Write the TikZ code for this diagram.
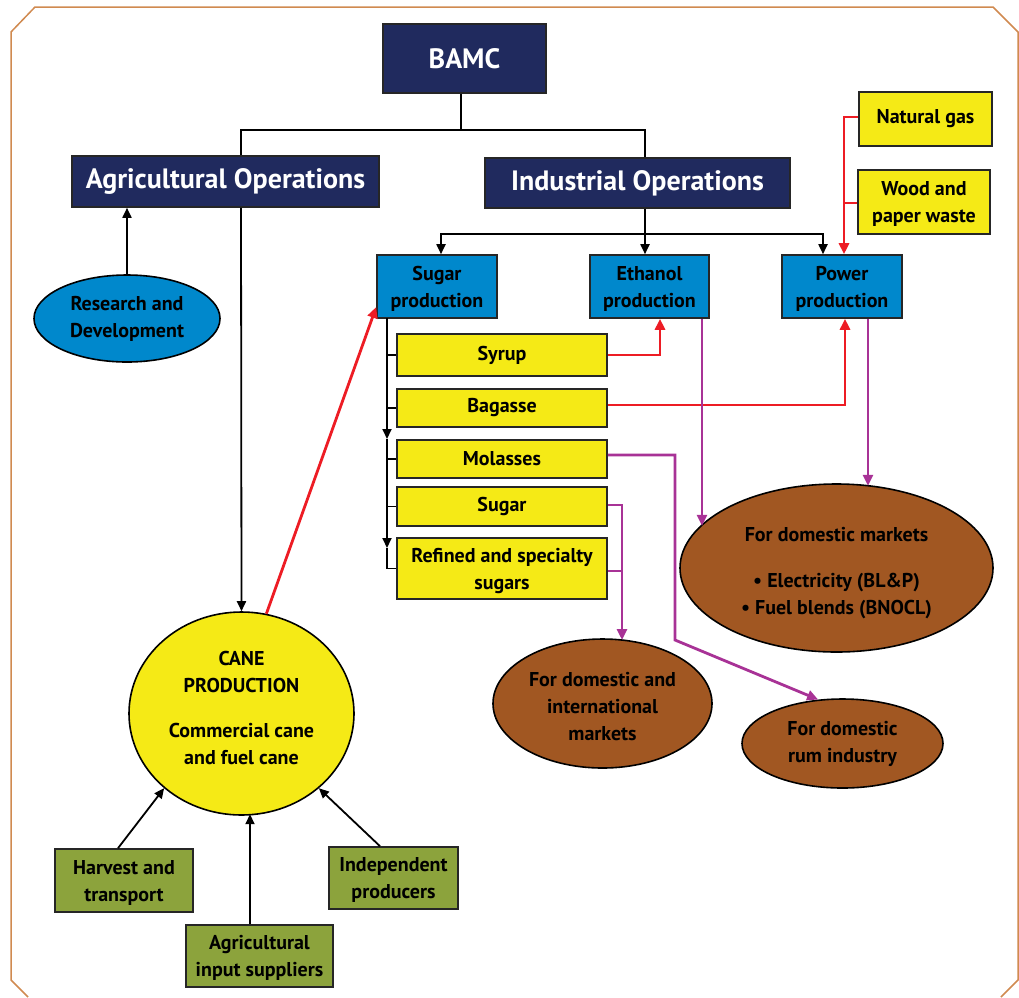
\documentclass[tikz,border=0pt]{standalone}
\usepackage{fontspec}
\setmainfont{PT Sans}
\usetikzlibrary{shapes.geometric,arrows.meta}
\definecolor{navy}{RGB}{32,42,94}
\definecolor{cblue}{RGB}{0,136,204}
\definecolor{cyellow}{RGB}{245,234,22}
\definecolor{cgreen}{RGB}{140,163,60}
\definecolor{cbrown}{RGB}{161,87,34}
\definecolor{cred}{RGB}{237,28,36}
\definecolor{cpur}{RGB}{168,50,150}
\definecolor{cborder}{RGB}{208,138,80}
\tikzset{
  box/.style={draw=black!85, line width=1.6pt, inner sep=0pt, align=center, font=\bfseries\fontsize{20}{27}\selectfont},
  navybox/.style={box, fill=navy, text=white, font=\bfseries\fontsize{28}{32}\selectfont},
  bluebox/.style={box, fill=cblue},
  yelbox/.style={box, fill=cyellow},
  grnbox/.style={box, fill=cgreen},
  txd/.style={text height=#1, text depth=0pt},
  txd/.default=41pt,
  oval/.style={ellipse, draw=black, line width=1.6pt, inner sep=0pt, align=center, font=\bfseries\fontsize{20}{27}\selectfont},
  conn/.style={line width=1.8pt, black},
  arr/.style={conn, -{Triangle[length=10pt,width=9pt]}},
  redl/.style={line width=2.8pt, cred},
  redarr/.style={redl, -{Triangle[length=11pt,width=10pt]}},
  purl/.style={line width=2.8pt, cpur},
  purarr/.style={purl, -{Triangle[length=11pt,width=10pt]}},
}
\begin{document}
\begin{tikzpicture}[x=1pt,y=-1pt]
\useasboundingbox (0,0) rectangle (1019,997);
\draw[cborder, line width=1.5pt] (28,997) -- (11,980) -- (11,32) -- (35,7) -- (993,7) -- (1018,32) -- (1018,980) -- (1001,997);

% top level
\node[navybox, minimum width=163pt, minimum height=69pt] (bamc) at (464.5,58.5) {BAMC};
\node[navybox, minimum width=307pt, minimum height=51pt] (agri) at (225.5,181.5) {Agricultural Operations};
\node[navybox, minimum width=305pt, minimum height=50pt] (ind) at (637.5,183) {Industrial Operations};

% production boxes
\node[bluebox, txd, minimum width=120pt, minimum height=63pt] (sp) at (437,286.5) {Sugar\\production};
\node[bluebox, txd, minimum width=119pt, minimum height=63pt] (eth) at (649.5,286.5) {Ethanol\\production};
\node[bluebox, txd, minimum width=120pt, minimum height=63pt] (pow) at (842,286.5) {Power\\production};

\node[yelbox, minimum width=133pt, minimum height=54pt] (ng) at (925.5,119) {Natural gas};
\node[yelbox, txd, minimum width=132pt, minimum height=64pt] (wood) at (924,202) {Wood and\\paper waste};

\node[yelbox, minimum width=210pt, minimum height=42pt] (syrup) at (502,355) {Syrup};
\node[yelbox, minimum width=210pt, minimum height=38pt] (bagasse) at (502,408) {Bagasse};
\node[yelbox, minimum width=210pt, minimum height=38pt] (molasses) at (502,459) {Molasses};
\node[yelbox, minimum width=210pt, minimum height=39pt] (sugar) at (502,506.5) {Sugar};
\node[yelbox, txd, minimum width=210pt, minimum height=61pt] (refined) at (502,568.5) {Refined and specialty\\sugars};

% ellipses
\node[oval, txd=37pt, fill=cblue, minimum width=186pt, minimum height=87pt] (rd) at (127,318.5) {Research and\\Development};
\node[oval, txd=101pt, fill=cyellow, minimum width=225pt, minimum height=203pt] (cane) at (241.5,713.5) {CANE\\PRODUCTION\\[18pt]Commercial cane\\and fuel cane};
\node[oval, txd=92pt, fill=cbrown, minimum width=313pt, minimum height=168pt] (dm) at (836.5,568) {For domestic markets\\[19pt]• Electricity (BL\&P)\\• Fuel blends (BNOCL)};
\node[oval, txd=73pt, fill=cbrown, minimum width=219pt, minimum height=129pt] (di) at (602.5,703.5) {For domestic and\\international\\markets};
\node[oval, txd=37pt, fill=cbrown, minimum width=201pt, minimum height=89pt] (rum) at (842.5,743.5) {For domestic\\rum industry};

% green boxes
\node[grnbox, txd, minimum width=138pt, minimum height=63pt] (harv) at (124,880.5) {Harvest and\\transport};
\node[grnbox, txd, minimum width=129pt, minimum height=62pt] (indep) at (393.5,878) {Independent\\producers};
\node[grnbox, txd, minimum width=147pt, minimum height=62pt] (agin) at (259.5,956) {Agricultural\\input suppliers};

% BAMC tree
\coordinate (j1) at (461,130);
\draw[conn] ([xshift=-3.5pt]bamc.south) -- (j1);
\draw[conn] ([xshift=15.5pt]agri.north) |- (j1) -| ([xshift=7.5pt]ind.north);

% industrial tree
\coordinate (j2) at (645,234);
\draw[conn] ([xshift=7.5pt]ind.south) -- (j2);
\draw[arr] (j2) -| ([xshift=4pt]sp.north);
\draw[arr] (j2) -- ([xshift=-4.5pt]eth.north);
\draw[arr] (j2) -| ([xshift=-19pt]pow.north);

% agricultural
\draw[arr] (rd.north) -- (rd.north |- agri.south);
\draw[arr] ([xshift=15.5pt]agri.south) -- (cane.north);
\draw[redarr] (cane.76) -- ([yshift=-20.5pt]sp.west);

% sugar products
\coordinate (v0) at (387,318);
\coordinate (a1) at (387,439);
\coordinate (a2) at (387,548);
\draw[arr] (v0) -- (a1);
\draw[arr] (a1) -- (a2);
\draw[conn] (a2) -- (v0 |- refined.west) -- (refined.west);
\foreach \n in {syrup,bagasse,molasses,sugar}
  \draw[conn, line width=1.3pt] (v0 |- \n.west) -- (\n.west);

% fuel flows
\draw[redarr] (syrup.east) -| ([xshift=10.5pt]eth.south);
\draw[redarr] ([yshift=3pt]bagasse.east) -| ([xshift=3pt]pow.south);
\draw[redarr] ([yshift=2pt]ng.west) -| ([xshift=2pt]pow.north);
\draw[redl] ([yshift=-1pt]wood.west) -- ++(-14,0);

% market flows
\draw[purarr] ([xshift=52.5pt]eth.south) -- ++(0,207);
\draw[purarr] ([xshift=26pt]pow.south) -- ++(0,167);
\draw[purarr] ([yshift=4pt]molasses.east) -- (675,455) -- (675,640) -- (rum.119);
\draw[purarr] ([yshift=1.5pt]sugar.east) -| (622,640);
\draw[purl] ([yshift=-2.5pt]refined.east) -- (622,571);

% inputs to cane
\draw[arr] ([xshift=-6pt]harv.north) -- (cane.224);
\draw[arr] ([xshift=-9.5pt]agin.north) -- ++(0,-110);
\draw[arr] ([xshift=-13.5pt]indep.north) -- (cane.316);
\end{tikzpicture}
\end{document}
